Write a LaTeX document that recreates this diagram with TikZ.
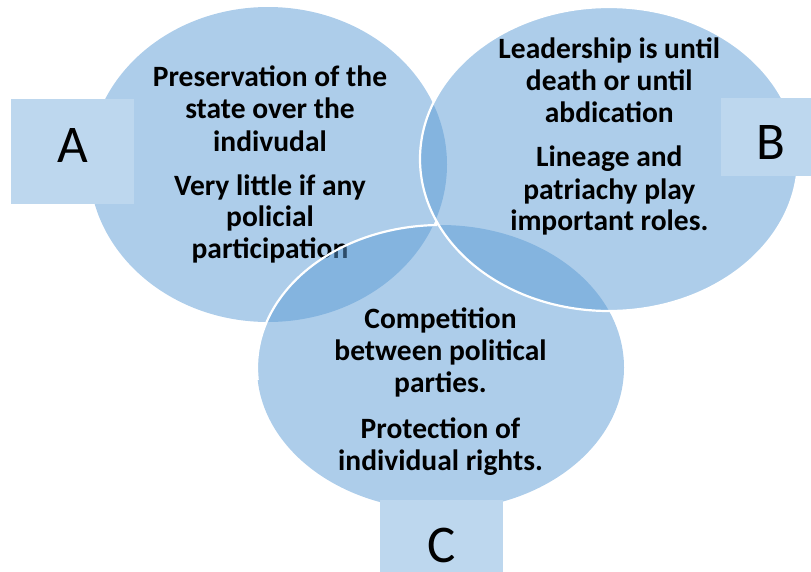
\documentclass[tikz,border=0pt]{standalone}
\usepackage{fontspec}
\setmainfont{Carlito}
\usetikzlibrary{calc}
\definecolor{venn}{RGB}{91,155,213}
\definecolor{lab}{RGB}{189,215,238}
\begin{document}
\begin{tikzpicture}[x=1pt,y=-1pt,
  circ/.style={fill=venn, fill opacity=0.5},
  rim/.style={draw=white, line width=2.2pt},
  txt/.style={anchor=base, inner sep=0pt, font=\bfseries\fontsize{29.5}{32}\selectfont},
  labbox/.style={fill=lab, draw=none, inner sep=0pt},
  labtxt/.style={anchor=base, inner sep=0pt, font=\fontsize{53}{60}\selectfont}]
\useasboundingbox (0,0) rectangle (811,571);
\coordinate (cA) at (268,164.5);
\coordinate (cB) at (609,159);
\coordinate (cC) at (440.5,367.5);
% circle A and its text
\fill[circ] (cA) ellipse [x radius=179, y radius=157.5];
\foreach \t/\y [count=\i] in {Preservation of the/86, state over the/118.3, indivudal/151,
  Very little if any/195, policial/226.7, participation/258.3}
  \node[txt] (a\i) at (270,\y) {\t};
% circle C
\fill[circ] (cC) ellipse [x radius=183.5, y radius=142.5];
\draw[rim] ($(cC)+(269:183.5 and 142.5)$) arc[start angle=269, end angle=175, x radius=183.5, y radius=142.5];
% circle B
\fill[circ] (cB) ellipse [x radius=189, y radius=152];
\draw[rim] (cB) ellipse [x radius=189, y radius=152];
\foreach \t/\y [count=\i] in {Leadership is until/58.3, death or until/90, abdication/122.7,
  Lineage and/166.7, patriachy play/199, important roles./230.7}
  \node[txt] (b\i) at (609.3,\y) {\t};
\foreach \t/\y [count=\i] in {Competition/328.3, between political/360, parties./392.7,
  Protection of/438.3, individual rights./470}
  \node[txt] (c\i) at (440.5,\y) {\t};
% label boxes
\node[labbox, minimum width=123pt, minimum height=105pt] (boxA) at (72.5,151.5) {};
\node[labbox, minimum width=123pt, minimum height=78pt] (boxB) at (782.5,137) {};
\node[labbox, minimum width=123pt, minimum height=105pt] (boxC) at (441.5,552.5) {};
\node[labtxt] (labA) at (72.5,162) {A};
\node[labtxt] (labB) at (771,159) {B};
\node[labtxt] (labC) at (442,562) {C};
\end{tikzpicture}
\end{document}
